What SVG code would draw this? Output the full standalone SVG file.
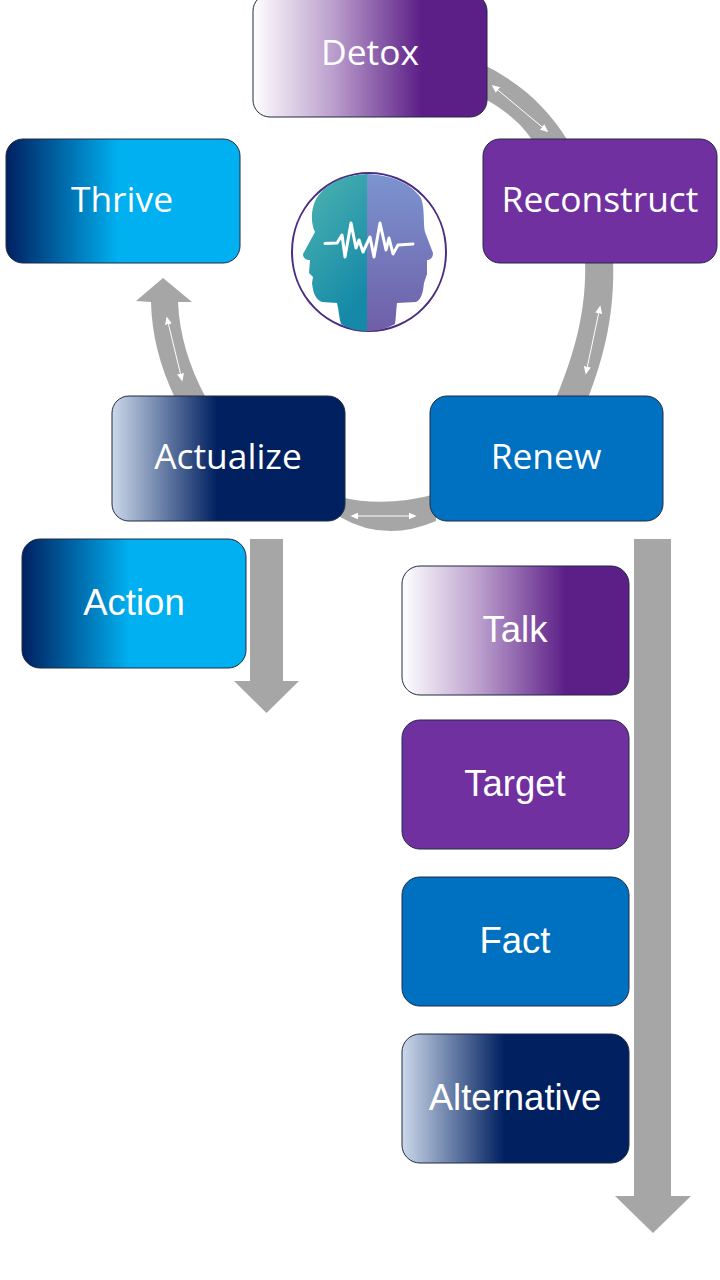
<svg xmlns="http://www.w3.org/2000/svg" width="720" height="1280" viewBox="0 0 720 1280">
<style>
.box{stroke:#1f2a44;stroke-width:1}
.seg{font-family:"Open Sans",sans-serif;font-size:35.400px;fill:#fff;text-anchor:middle}
.sub{font-family:"Liberation Sans",Arial,sans-serif;font-size:36.500px;fill:#fff;text-anchor:middle}
.band{fill:#a6a6a6}
.dbl{stroke:#fff;stroke-width:1;fill:none;marker-start:url(#ah);marker-end:url(#ah)}
</style>
<defs>
<marker id="ah" viewBox="0 0 10 10" refX="8" refY="5" markerWidth="8" markerHeight="7" markerUnits="userSpaceOnUse" orient="auto-start-reverse" preserveAspectRatio="none"><path d="M0 0L10 5L0 10Z" fill="#fff"/></marker>
<linearGradient id="gPurple"><stop offset="0" stop-color="#fff"/><stop offset=".35" stop-color="#b99ccb"/><stop offset=".72" stop-color="#5c1f87"/><stop offset="1" stop-color="#5c1f87"/></linearGradient>
<linearGradient id="gBlue"><stop offset="0" stop-color="#002060"/><stop offset=".48" stop-color="#00b0f0"/><stop offset="1" stop-color="#00b0f0"/></linearGradient>
<linearGradient id="gNavy"><stop offset="0" stop-color="#ccd8ea"/><stop offset=".45" stop-color="#002060"/><stop offset="1" stop-color="#002060"/></linearGradient>
<linearGradient id="gTeal" x1="0" y1="0" x2=".5" y2="1"><stop offset="0" stop-color="#4fb5b0"/><stop offset="1" stop-color="#1589a8"/></linearGradient>
<linearGradient id="gViolet" x1="0" y1="0" x2="0" y2="1"><stop offset="0" stop-color="#7b94cf"/><stop offset="1" stop-color="#6f5fa8"/></linearGradient>
</defs>
<g id="connectors">
<path class="band" d="M480 63C520 82 548 108 568 141L533 141C520 122 505 110 480 96Z"/>
<path class="band" d="M585 260L613 260C615 310 605 355 588 398L556 398C574 355 587 310 585 260Z"/>
<path class="band" d="M340 497Q385 508 436 494L436 521Q385 543 340 517Z"/>
<path class="band" d="M163 278L192 302L178 302Q180 350 206 398L175 398Q152 350 151 302L136 301Z"/>
<path class="band" d="M250 539H283V681H299L266.500 713L234 681H250Z"/>
<path class="band" d="M634 539H671V1196H691L653 1233L615 1196H634Z"/>
<path class="dbl" d="M493 86L547 131"/>
<path class="dbl" d="M600 307L586 373"/>
<path class="dbl" d="M167 318L182 380"/>
<path class="dbl" d="M352 516L415 516"/>
</g>
<g id="logo">
<ellipse cx="369" cy="252" rx="77" ry="79" fill="#fff" stroke="#4b2e83" stroke-width="2"/>
<path fill="url(#gTeal)" d="M367 174C345 175 328 182 318 196C311 206 310 222 315 232L303 254C303 258 306 260 310 260L309 273L313 277L312 283C313 293 316 300 322 302L337 303C339 311 339 318 341 324C350 329 358 331 367 331Z"/>
<path fill="url(#gViolet)" d="M367 174C390 175 410 182 421 198C425 208 423 224 425 232L433 253C433 257 431 260 427 260L427 274L424 283C423 293 421 300 416 302L397 303C396 311 396 318 395 324C386 329 376 331 367 331Z"/>
<path fill="none" stroke="#fff" stroke-width="3" stroke-linejoin="round" stroke-linecap="round" d="M325 243.500L337 243L342 235L345 257L351 223L356 248L359 240L363 252L370 237L374 257L380 223L386 250L389 238L393 254L398 245L413 244"/>
</g>
<g id="detox"><rect class="box" x="253" y="-6" width="234" height="123" rx="17" fill="url(#gPurple)"/><text class="seg" x="370" y="65">Detox</text></g>
<g id="thrive"><rect class="box" x="6" y="139" width="234" height="124" rx="17" fill="url(#gBlue)"/><text class="seg" x="122" y="212">Thrive</text></g>
<g id="reconstruct"><rect class="box" x="483" y="139" width="234" height="124" rx="17" fill="#7030a0"/><text class="seg" x="600" y="212">Reconstruct</text></g>
<g id="actualize"><rect class="box" x="112" y="396" width="233" height="125" rx="17" fill="url(#gNavy)"/><text class="seg" x="228" y="469">Actualize</text></g>
<g id="renew"><rect class="box" x="430" y="396" width="233" height="125" rx="17" fill="#0070c0"/><text class="seg" x="546" y="469">Renew</text></g>
<g id="action"><rect class="box" x="22" y="539" width="224" height="129" rx="18" fill="url(#gBlue)"/><text class="sub" x="134" y="615">Action</text></g>
<g id="talk"><rect class="box" x="402" y="566" width="227" height="129" rx="18" fill="url(#gPurple)"/><text class="sub" x="515" y="642">Talk</text></g>
<g id="target"><rect class="box" x="402" y="720" width="227" height="129" rx="18" fill="#7030a0"/><text class="sub" x="515" y="796">Target</text></g>
<g id="fact"><rect class="box" x="402" y="877" width="227" height="129" rx="18" fill="#0070c0"/><text class="sub" x="515" y="953">Fact</text></g>
<g id="alternative"><rect class="box" x="402" y="1034" width="227" height="129" rx="18" fill="url(#gNavy)"/><text class="sub" x="515" y="1110">Alternative</text></g>
</svg>
